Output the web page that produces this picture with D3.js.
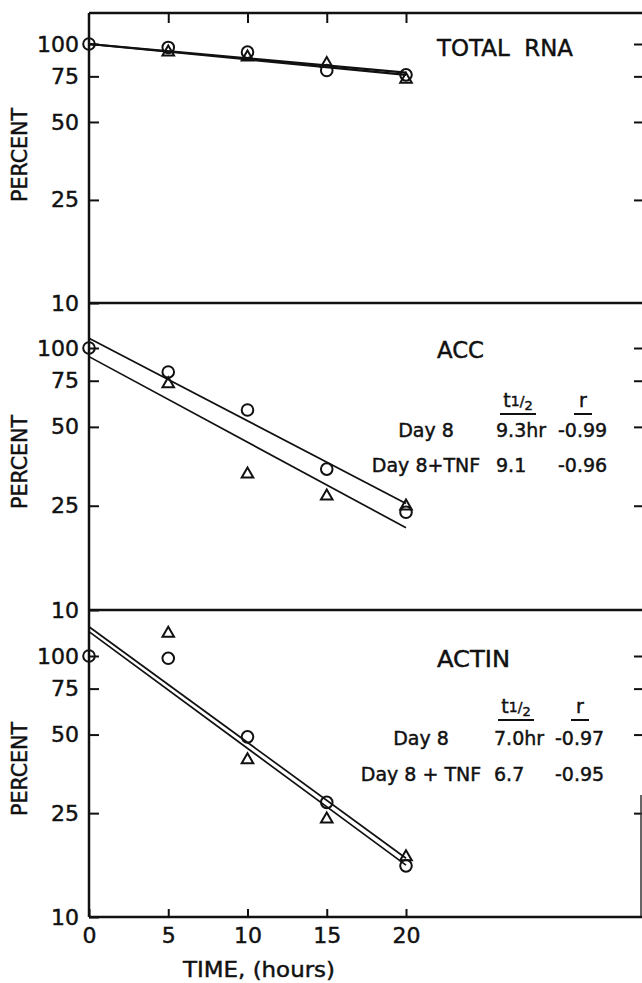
<!DOCTYPE html>
<html>
<head>
<meta charset="utf-8">
<script src="https://cdn.jsdelivr.net/npm/d3@7"></script>
<style>
  body { margin: 0; background: #fff; }
  text { font-family: "DejaVu Sans", sans-serif; fill: #111; stroke: #111; stroke-width: 0.45px; }
</style>
</head>
<body>
<svg id="chart" width="642" height="983"></svg>
<script>
// hours after actinomycin, percent remaining (log scale)
const hours = [0, 5, 10, 15, 20]
const yTicks = [10, 25, 50, 75, 100]

// circles = Day 8, triangles = Day 8 + TNF
const rnaDay8 = [100, 97, 93, 79, 76]
const rnaTnf = [null, 93, 89, 84, 73]
const accDay8 = [100, 81, 58, 34.5, 23.6]
const accTnf = [null, 73, 33, 27.2, 24.9]
const actinDay8 = [100, 98, 49, 27.5, 15.7]
const actinTnf = [null, 122, 40, 23.7, 17]

// fitted lines, value at 0 h and at 20 h
const rnaFitDay8 = [100, 77.5]
const rnaFitTnf = [100, 76]
const accFitDay8 = [109, 25.5]
const accFitTnf = [92.7, 20.6]
const actinFitDay8 = [124, 15.8]
const actinFitTnf = [129.5, 16.8]

const panelNames = ['TOTAL  RNA', 'ACC', 'ACTIN']
const accTable = [['Day 8', '9.3hr', '-0.99'], ['Day 8+TNF', '9.1', '-0.96']]
const actinTable = [['Day 8', '7.0hr', '-0.97'], ['Day 8 + TNF', '6.7', '-0.95']]

const panels = [
  { name: panelNames[0], day8: rnaDay8, tnf: rnaTnf, fit8: rnaFitDay8, fitT: rnaFitTnf, table: null, top: 13, y10: 303, y100: 44, titleY: 56, titleLen: 136 },
  { name: panelNames[1], day8: accDay8, tnf: accTnf, fit8: accFitDay8, fitT: accFitTnf, table: accTable, top: 303, y10: 610, y100: 348, titleY: 358, titleLen: 47 },
  { name: panelNames[2], day8: actinDay8, tnf: actinTnf, fit8: actinFitDay8, fitT: actinFitTnf, table: actinTable, top: 610, y10: 917, y100: 656, titleY: 667, titleLen: 73 }
]

const svg = d3.select('#chart')
const left = 89
const right = 642
const x = d3.scaleLinear().domain([0, 20]).range([left, 406])

svg.append('rect').attr('width', 642).attr('height', 983).attr('fill', '#fff')

const styleAxis = (g) => {
  g.select('.domain').remove()
  g.selectAll('line').attr('stroke', '#111').attr('stroke-width', 2)
  g.selectAll('text').attr('font-size', 22).attr('font-family', 'DejaVu Sans').attr('fill', '#111')
}

panels.forEach((p, pi) => {
  const y = d3.scaleLog().domain([10, 100]).range([p.y10, p.y100])
  const g = svg.append('g')

  // left ticks + labels
  g.append('g')
    .attr('transform', `translate(${left},0)`)
    .call(d3.axisLeft(y).tickValues(yTicks).tickFormat(d3.format('d'))
      .tickSizeInner(-10).tickSizeOuter(0).tickPadding(10))
    .call(styleAxis)

  // right ticks
  g.append('g')
    .attr('transform', `translate(${right},0)`)
    .call(d3.axisRight(y).tickValues(yTicks.slice(1)).tickFormat('')
      .tickSizeInner(-8).tickSizeOuter(0))
    .call(styleAxis)

  if (pi === 0) {
    g.append('line').attr('x1', left).attr('x2', right).attr('y1', p.top).attr('y2', p.top)
      .attr('stroke', '#111').attr('stroke-width', 2.5)
    g.append('g')
      .attr('transform', `translate(0,${p.top})`)
      .call(d3.axisTop(x).tickValues(hours.slice(1)).tickFormat('').tickSizeInner(-10).tickSizeOuter(0))
      .call(styleAxis)
  }

  if (pi === 2) {
    g.append('g')
      .attr('transform', `translate(0,${p.y10})`)
      .call(d3.axisBottom(x).tickValues(hours).tickFormat(d3.format('d'))
        .tickSizeInner(-8).tickSizeOuter(0).tickPadding(10))
      .call(styleAxis)
    g.append('line').attr('x1', 641).attr('x2', 641).attr('y1', 795).attr('y2', p.y10)
      .attr('stroke', '#333').attr('stroke-width', 1.5)
  }

  // bottom border of panel
  g.append('line').attr('x1', left).attr('x2', right).attr('y1', p.y10).attr('y2', p.y10)
    .attr('stroke', '#111').attr('stroke-width', 2.5)

  // fitted lines
  const line = d3.line().x(d => x(d[0])).y(d => y(d[1]))
  ;[p.fit8, p.fitT].forEach(f => {
    g.append('path')
      .attr('d', line([[0, f[0]], [20, f[1]]]))
      .attr('fill', 'none').attr('stroke', '#111')
      .attr('stroke-width', pi === 0 ? 2.2 : 1.7)
  })

  // circles: Day 8
  g.selectAll('circle.d8')
    .data(hours.map((h, i) => [h, p.day8[i]]).filter(d => d[1] != null))
    .enter().append('circle')
    .attr('cx', d => x(d[0])).attr('cy', d => y(d[1])).attr('r', 5.8)
    .attr('fill', 'none').attr('stroke', '#111').attr('stroke-width', 2)

  // triangles: Day 8 + TNF
  g.selectAll('path.tnf')
    .data(hours.map((h, i) => [h, p.tnf[i]]).filter(d => d[1] != null))
    .enter().append('path')
    .attr('d', d3.symbol(d3.symbolTriangle, 58))
    .attr('transform', d => `translate(${x(d[0])},${y(d[1])})`)
    .attr('fill', 'none').attr('stroke', '#111').attr('stroke-width', 2)

  // y title
  const cy = p.y10 - 148
  g.append('text')
    .attr('transform', `translate(27,${cy}) rotate(-90)`)
    .attr('text-anchor', 'middle').attr('font-size', 22)
    .attr('textLength', 94).attr('lengthAdjust', 'spacingAndGlyphs')
    .text('PERCENT')

  // panel name
  g.append('text')
    .attr('x', 437).attr('y', p.titleY)
    .attr('font-size', 23).style('white-space', 'pre')
    .attr('textLength', p.titleLen).attr('lengthAdjust', 'spacingAndGlyphs')
    .text(p.name)

  // half-life table
  if (p.table) {
    const hy = pi === 1 ? 407 : 713
    const rowY = pi === 1 ? [437, 472] : [745, 781]
    const colX = pi === 1 ? [426, 518, 583] : [421, 516, 580]
    const th = g.append('text').attr('x', colX[1]).attr('y', hy)
      .attr('text-anchor', 'middle').attr('font-size', 19)
    th.append('tspan').text('t')
    th.append('tspan').attr('font-size', 14).attr('dy', -1).text('1')
    th.append('tspan').attr('font-size', 14).text('/')
    th.append('tspan').attr('font-size', 13).attr('dy', 4).text('2')
    g.append('line').attr('x1', colX[1] - 18).attr('x2', colX[1] + 18)
      .attr('y1', hy + 7).attr('y2', hy + 7).attr('stroke', '#111').attr('stroke-width', 2)
    g.append('text').attr('x', colX[2]).attr('y', hy)
      .attr('text-anchor', 'middle').attr('font-size', 19).text('r')
    g.append('line').attr('x1', colX[2] - 9).attr('x2', colX[2] + 9)
      .attr('y1', hy + 7).attr('y2', hy + 7).attr('stroke', '#111').attr('stroke-width', 2)
    p.table.forEach((row, ri) => {
      row.forEach((cell, ci) => {
        g.append('text')
          .attr('x', colX[ci] + (ci === 1 ? -22 : ci === 2 ? -25 : 0))
          .attr('y', rowY[ri])
          .attr('text-anchor', ci === 0 ? 'middle' : 'start')
          .attr('font-size', 19).style('white-space', 'pre')
          .text(cell)
      })
    })
  }
})

// left axis spine
svg.append('line').attr('x1', left).attr('x2', left).attr('y1', 13).attr('y2', 917)
  .attr('stroke', '#111').attr('stroke-width', 2.5)

svg.append('text')
  .attr('x', 259).attr('y', 977)
  .attr('text-anchor', 'middle').attr('font-size', 21)
  .attr('textLength', 152).attr('lengthAdjust', 'spacingAndGlyphs')
  .text('TIME, (hours)')
</script>
</body>
</html>
